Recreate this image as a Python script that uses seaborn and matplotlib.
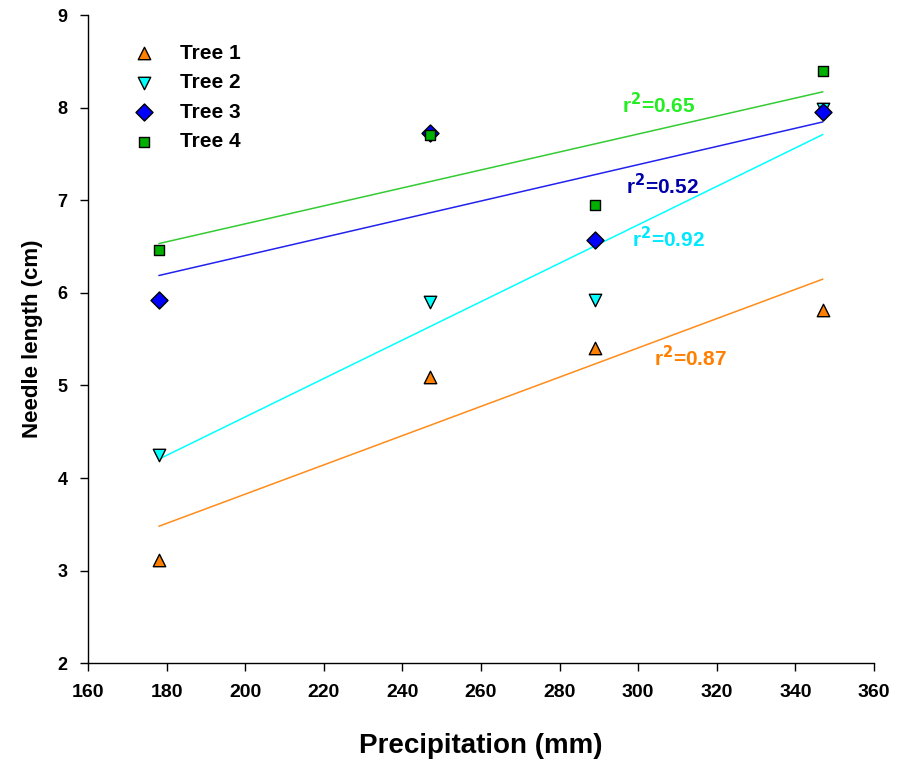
import pandas as pd
import seaborn as sns
import matplotlib.pyplot as plt

# values
precip = [178, 247, 289, 347]
tree1 = [3.11, 5.09, 5.41, 5.82]
tree2 = [4.25, 5.90, 5.92, 7.99]
tree3 = [5.92, 7.73, 6.57, 7.96]
tree4 = [6.46, 7.71, 6.95, 8.40]
trees = ['Tree 1', 'Tree 2', 'Tree 3', 'Tree 4']
r2_labels = ['0.87', '0.92', '0.52', '0.65']

rows = []
for name, vals in zip(trees, [tree1, tree2, tree3, tree4]):
    for p, v in zip(precip, vals):
        rows.append({'Precipitation': p, 'Needle': v, 'Tree': name})
df = pd.DataFrame(rows)

marker_fill = {'Tree 1': '#FF7F00', 'Tree 2': '#00FFFF', 'Tree 3': '#0000FF', 'Tree 4': '#00B000'}
line_col = {'Tree 1': '#FF8C1A', 'Tree 2': '#00FFFF', 'Tree 3': '#2222EE', 'Tree 4': '#33CC33'}
text_col = {'Tree 1': '#FF8000', 'Tree 2': '#00E8FF', 'Tree 3': '#0000AA', 'Tree 4': '#22EE22'}
markers = {'Tree 1': '^', 'Tree 2': 'v', 'Tree 3': 'D', 'Tree 4': 's'}
sizes = {'Tree 1': 80, 'Tree 2': 80, 'Tree 3': 75, 'Tree 4': 60}
label_pos = {'Tree 1': (304, 5.30), 'Tree 2': (298.5, 6.59), 'Tree 3': (297, 7.16), 'Tree 4': (296, 8.04)}

sns.set_style('white')
plt.rcParams['font.family'] = ['Liberation Sans', 'DejaVu Sans']
plt.rcParams['font.weight'] = 'bold'
for k in ['text.color', 'axes.labelcolor', 'xtick.color', 'ytick.color']:
    plt.rcParams[k] = 'black'

fig = plt.figure(figsize=(9, 7.64), dpi=100)
ax = fig.add_axes([0.098, 0.132, 0.873, 0.848])

for name in trees:
    sub = df[df['Tree'] == name]
    sns.regplot(data=sub, x='Precipitation', y='Needle', scatter=False, ci=None,
                truncate=True, ax=ax, line_kws={'color': line_col[name], 'lw': 1.1})

for name in trees:
    sub = df[df['Tree'] == name]
    sns.scatterplot(data=sub, x='Precipitation', y='Needle', ax=ax, marker=markers[name],
                    color=marker_fill[name], edgecolor='black', linewidth=1.0,
                    s=sizes[name], label=name, zorder=5)

for name, r2 in zip(trees, r2_labels):
    x, y = label_pos[name]
    ax.text(x, y, r'r$^{\mathbf{2}}$=' + r2, color=text_col[name], fontsize=15,
            fontweight='bold', va='center', ha='left')

ax.set_xlim(160, 360)
ax.set_ylim(2, 9)
ax.set_xticks(range(160, 361, 20))
ax.set_yticks(range(2, 10))
sns.despine(ax=ax)
for s in ['left', 'bottom']:
    ax.spines[s].set_color('black')
    ax.spines[s].set_linewidth(1.0)
ax.tick_params(axis='both', direction='out', length=6, width=1, color='black',
               left=True, bottom=True)
ax.tick_params(axis='x', labelsize=14, pad=9)
ax.tick_params(axis='y', labelsize=13, pad=9)
for lab in ax.get_xticklabels() + ax.get_yticklabels():
    lab.set_fontweight('bold')

ax.set_xlabel('Precipitation (mm)', fontsize=20, fontweight='bold', labelpad=23)
ax.set_ylabel('Needle length (cm)', fontsize=16, fontweight='bold', labelpad=10)

leg = ax.legend(loc='upper left', bbox_to_anchor=(0.021, 0.985), frameon=False,
                fontsize=15, handletextpad=0.7, labelspacing=0.5)
for t in leg.get_texts():
    t.set_fontweight('bold')

fig.savefig('out.png', dpi=100)
